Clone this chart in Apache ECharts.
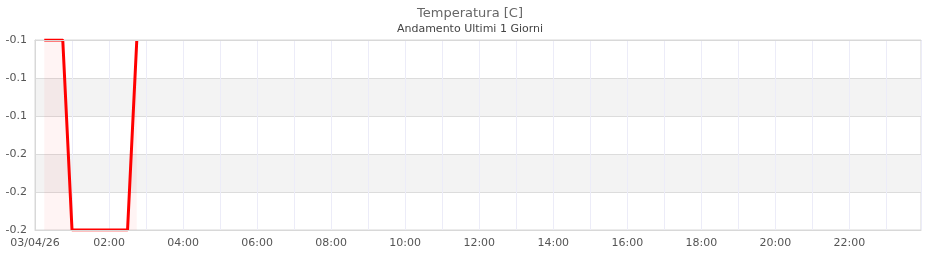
<!DOCTYPE html>
<html>
<head>
<meta charset="utf-8">
<title>Temperatura [C]</title>
<script src="https://cdn.jsdelivr.net/npm/echarts@6/dist/echarts.min.js"></script>
<style>
	html, body { margin: 0; padding: 0; background: #fff; }
	#chart { width: 940px; height: 260px; }
</style>
</head>
<body>
<div id="chart"></div>
<script type="text/javascript">
	// dati (orari del 03/04/26)
	var dayLabel = '03/04/26';
	var times = ['00:15', '00:30', '00:45', '01:00', '01:15', '01:30', '01:45', '02:00', '02:15', '02:30', '02:45'];
	var temps = [-0.1, -0.1, -0.1, -0.2, -0.2, -0.2, -0.2, -0.2, -0.2, -0.2, -0.1];
	var yMin = -0.2;
	var yMax = -0.1;
	var xMaxMinutes = 1436;

	function toMinutes(t) {
		var p = t.split(':');
		return parseInt(p[0], 10) * 60 + parseInt(p[1], 10);
	}
	function pad(n) {
		return (n < 10 ? '0' : '') + n;
	}

	var points = [];
	for (var i = 0; i < times.length; i++) {
		points.push([toMinutes(times[i]), temps[i]]);
	}

	var font = 'DejaVu Sans';
	var borderLine = { show: true, lineStyle: { color: '#d8d8d8', width: 1 } };

	var option = {
		animation: false,
		title: {
			text: 'Temperatura [C]',
			subtext: 'Andamento Ultimi 1 Giorni',
			left: 'center',
			top: 2,
			itemGap: 4,
			textStyle: { fontFamily: font, fontSize: 13, fontWeight: 'normal', color: '#666' },
			subtextStyle: { fontFamily: font, fontSize: 11, color: '#444' }
		},
		grid: {
			left: 35,
			right: 19,
			top: 40,
			bottom: 30,
			show: true,
			borderColor: '#d8d8d8',
			borderWidth: 1
		},
		xAxis: [
			{
				type: 'value',
				min: 0,
				max: xMaxMinutes,
				interval: 60,
				axisLine: { show: false },
				axisTick: { show: false },
				axisLabel: {
					fontFamily: font,
					fontSize: 11,
					color: '#555',
					margin: 8,
					showMaxLabel: false,
					formatter: function (v) {
						if (v % 120 !== 0) return '';
						if (v === 0) return dayLabel;
						return pad(Math.floor(v / 60)) + ':' + pad(v % 60);
					}
				},
				splitLine: { show: true, lineStyle: { color: '#ececf8', width: 1 } }
			},
			{
				type: 'value', position: 'bottom', min: 0, max: xMaxMinutes, z: 5,
				axisLine: borderLine, axisTick: { show: false }, axisLabel: { show: false }, splitLine: { show: false }
			},
			{
				type: 'value', position: 'top', min: 0, max: xMaxMinutes, z: 5,
				axisLine: borderLine, axisTick: { show: false }, axisLabel: { show: false }, splitLine: { show: false }
			}
		],
		yAxis: {
			type: 'value',
			min: yMin,
			max: yMax,
			interval: 0.02,
			axisLine: { show: true, lineStyle: { color: '#d8d8d8' } },
			axisTick: { show: false },
			axisLabel: {
				fontFamily: font,
				fontSize: 11,
				color: '#555',
				margin: 8,
				formatter: function (v) { return v.toFixed(1); }
			},
			splitLine: { show: true, lineStyle: { color: '#dcdcdc', width: 1 } },
			splitArea: { show: true, areaStyle: { color: ['rgba(255,255,255,0)', '#f3f3f3'] } }
		},
		series: [
			{
				name: 'Temperatura',
				type: 'line',
				xAxisIndex: 0,
				data: points,
				showSymbol: false,
				symbol: 'none',
				lineStyle: { color: '#ff0000', width: 3 },
				areaStyle: { color: 'rgba(255,0,0,0.06)', origin: 'start' }
			}
		]
	};

	var myChart = echarts.init(document.getElementById('chart'), null, { renderer: 'canvas' });
	myChart.setOption(option);
</script>
</body>
</html>
